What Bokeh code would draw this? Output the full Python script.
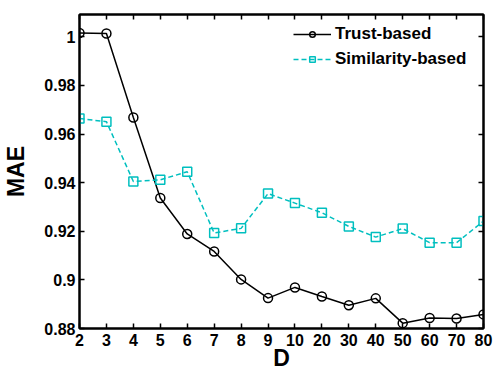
from bokeh.plotting import figure
from bokeh.models import (LinearAxis, FixedTicker, Range1d, Legend, LegendItem)
from bokeh.embed import file_html
from bokeh.resources import INLINE

# Neighbourhood size D and mean absolute error of each predictor
d_labels = ["2", "3", "4", "5", "6", "7", "8", "9", "10",
            "20", "30", "40", "50", "60", "70", "80"]
trust_mae = [1.0016, 1.0014, 0.9668, 0.9337, 0.9189, 0.9117, 0.9002, 0.8925,
             0.8969, 0.8932, 0.8896, 0.8924, 0.8822, 0.8843, 0.8841, 0.8858]
similarity_mae = [0.9664, 0.9651, 0.9405, 0.9412, 0.9445, 0.9193, 0.9212, 0.9355,
                  0.9316, 0.9276, 0.9220, 0.9176, 0.9211, 0.9153, 0.9153, 0.9242]
y_ticks = [0.88, 0.90, 0.92, 0.94, 0.96, 0.98, 1.00]
y_tick_labels = ["0.88", "0.9", "0.92", "0.94", "0.96", "0.98", "1"]

FONT = "Liberation Sans"
CYAN = "#00BFBF"

x_pos = list(range(1, len(d_labels) + 1))

p = figure(width=495, height=374, output_backend="svg", toolbar_location=None,
           x_range=Range1d(1, len(d_labels)), y_range=Range1d(0.88, 1.0092),
           min_border_left=78, min_border_right=12, min_border_top=14,
           min_border_bottom=46, x_axis_label="D", y_axis_label="MAE")
p.grid.visible = False
p.outline_line_color = "black"
p.outline_line_width = 2
p.background_fill_color = "white"
p.border_fill_color = "white"

x_over = {x: lab for x, lab in zip(x_pos, d_labels)}
y_over = {t: lab for t, lab in zip(y_ticks, y_tick_labels)}

def style_axis(ax):
    ax.axis_line_width = 2
    ax.axis_line_color = "black"
    ax.major_tick_in = 5
    ax.major_tick_out = 0
    ax.major_tick_line_width = 1.5
    ax.minor_tick_line_color = None
    ax.major_label_text_font = FONT
    ax.major_label_text_font_style = "bold"
    ax.major_label_text_font_size = "16px"
    ax.major_label_text_color = "black"
    ax.axis_label_text_font = FONT
    ax.axis_label_text_font_style = "bold"
    ax.axis_label_text_font_size = "23px"
    ax.axis_label_text_color = "black"

xa = p.xaxis[0]
xa.ticker = FixedTicker(ticks=x_pos)
xa.major_label_overrides = x_over
style_axis(xa)
xa.major_label_standoff = 5
xa.axis_label_standoff = -4

ya = p.yaxis[0]
ya.ticker = FixedTicker(ticks=y_ticks)
ya.major_label_overrides = y_over
style_axis(ya)
ya.major_label_standoff = 4
ya.axis_label_standoff = 12

# Box edges: tick marks only, with blank labels
top_ax = LinearAxis(ticker=FixedTicker(ticks=x_pos))
style_axis(top_ax)
top_ax.major_label_overrides = {x: "" for x in x_pos}
top_ax.major_label_standoff = 0
p.add_layout(top_ax, "above")
right_ax = LinearAxis(ticker=FixedTicker(ticks=y_ticks))
style_axis(right_ax)
right_ax.major_label_overrides = {t: "" for t in y_ticks}
right_ax.major_label_standoff = 0
p.add_layout(right_ax, "right")

# Trust-based: solid black with open circles
t_line = p.line(x_pos, trust_mae, line_color="black", line_width=1.5)
t_mark = p.scatter(x_pos, trust_mae, marker="circle", size=9, fill_color=None,
                   line_color="black", line_width=1.5)
# Similarity-based: dashed cyan with open squares
s_line = p.line(x_pos, similarity_mae, line_color=CYAN, line_width=1.5,
                line_dash="5 3")
s_mark = p.scatter(x_pos, similarity_mae, marker="square", size=9, fill_color=None,
                   line_color=CYAN, line_width=1.5)

legend = Legend(items=[LegendItem(label="Trust-based", renderers=[t_line, t_mark]),
                       LegendItem(label="Similarity-based", renderers=[s_line, s_mark])],
                location=(214, 259), orientation="vertical")
legend.border_line_color = None
legend.background_fill_alpha = 0
legend.padding = 0
legend.margin = 0
legend.spacing = 5
legend.glyph_width = 38
legend.glyph_height = 14
legend.label_height = 14
legend.label_standoff = 4
legend.label_text_font = FONT
legend.label_text_font_style = "bold"
legend.label_text_font_size = "17px"
legend.label_text_color = "black"
p.add_layout(legend)

open("out.html", "w").write(file_html(p, INLINE))
